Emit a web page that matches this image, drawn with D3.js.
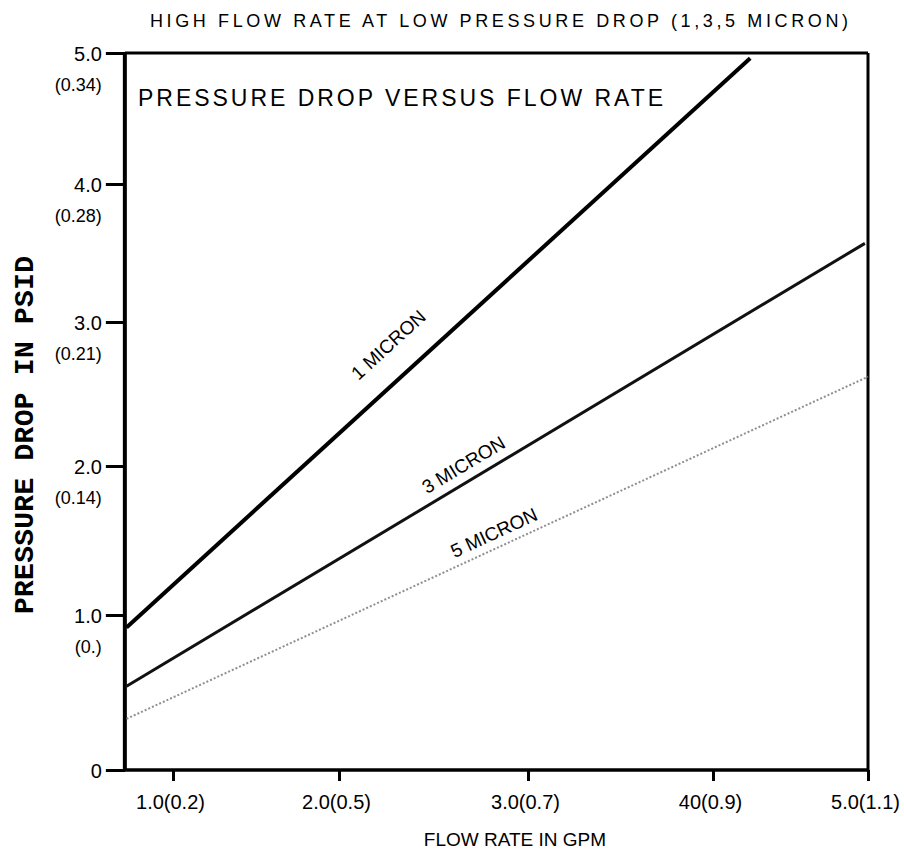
<!DOCTYPE html>
<html>
<head>
<meta charset="utf-8">
<script src="https://cdn.jsdelivr.net/npm/d3@7"></script>
<style>
  body { margin: 0; background: #fff; }
  svg { display: block; }
  text { font-family: "Liberation Sans", Arial, sans-serif; fill: #000; }
</style>
</head>
<body>
<svg id="chart" width="904" height="855"></svg>
<script>
// Flow-rate ticks: GPM with the metric reading in brackets
const flowTicks = [1, 2, 3, 4, 5];
const flowTickLabels = ["1.0(0.2)", "2.0(0.5)", "3.0(0.7)", "40(0.9)", "5.0(1.1)"];

// Pressure-drop ticks: PSID with the metric reading in brackets
const pressureTicks = [0, 1, 2, 3, 4, 5];
const pressureTickLabels = ["0", "1.0", "2.0", "3.0", "4.0", "5.0"];
const pressureSubLabels = ["", "(0.)", "(0.14)", "(0.21)", "(0.28)", "(0.34)"];

// Cartridge ratings, each a straight line [flow GPM, pressure PSID]
const ratings = ["1 MICRON", "3 MICRON", "5 MICRON"];
const micron1 = [[0.72, 0.92], [4.24, 4.96]];
const micron3 = [[0.72, 0.54], [4.98, 3.57]];
const micron5 = [[0.72, 0.33], [5.0, 2.62]];
// Flow value at which each rating label sits along its line
const labelFlow = [2.32, 2.69, 2.85];

const flowExtent = [0.71, 5.0];
const pressureExtent = [0, 5.0];

const svg = d3.select("#chart");

// The printed grid is slightly uneven, so each tick interval has its own span
const x = d3.scaleLinear().domain(flowTicks).range([173, 339, 528, 713, 868]);
const y = d3.scaleLinear().domain(pressureTicks).range([770, 615, 466, 322, 184, 53]);

const plotLeft = x(flowExtent[0]), plotRight = x(flowExtent[1]);
const plotTop = y(pressureExtent[1]), plotBottom = y(pressureExtent[0]);

// Title
svg.append("text")
  .attr("x", 150).attr("y", 27)
  .attr("textLength", 698).attr("lengthAdjust", "spacing")
  .style("font-size", "18px")
  .text("HIGH FLOW RATE AT LOW PRESSURE DROP (1,3,5 MICRON)");

// Plot frame
const frame = svg.append("g").attr("fill", "none").attr("stroke", "#000");
frame.append("line").attr("x1", plotLeft).attr("x2", plotRight).attr("y1", plotTop).attr("y2", plotTop).attr("stroke-width", 3);
frame.append("line").attr("x1", plotRight).attr("x2", plotRight).attr("y1", plotTop).attr("y2", plotBottom).attr("stroke-width", 3);
frame.append("line").attr("x1", plotLeft - 1).attr("x2", plotRight + 1).attr("y1", plotBottom).attr("y2", plotBottom).attr("stroke-width", 3.5);
frame.append("line").attr("x1", plotLeft).attr("x2", plotLeft).attr("y1", plotTop - 1).attr("y2", plotBottom + 1).attr("stroke-width", 4);

// Y axis
const yAxis = d3.axisLeft(y).tickValues(pressureTicks)
  .tickFormat((d, i) => pressureTickLabels[i]).tickSize(19).tickPadding(4);
const gy = svg.append("g").attr("transform", `translate(${plotLeft},0)`).call(yAxis);
gy.select(".domain").remove();
gy.selectAll(".tick line").attr("stroke", "#000").attr("stroke-width", 3);
gy.selectAll(".tick text").style("font-size", "20px").attr("fill", "#000").attr("dy", "0.36em");
gy.selectAll(".tick").append("text")
  .attr("x", -23).attr("y", 31).attr("dy", "0.36em")
  .attr("text-anchor", "end").attr("fill", "#000")
  .style("font-size", "18px")
  .text((d, i) => pressureSubLabels[i]);

// X axis
const xAxis = d3.axisBottom(x).tickValues(flowTicks)
  .tickFormat((d, i) => flowTickLabels[i]).tickSize(11).tickPadding(14);
const gx = svg.append("g").attr("transform", `translate(0,${plotBottom})`).call(xAxis);
gx.select(".domain").remove();
gx.selectAll(".tick line").attr("stroke", "#000").attr("stroke-width", 3);
gx.selectAll(".tick text").style("font-size", "20px").attr("fill", "#000").attr("dx", "-3");

// Axis titles
svg.append("text")
  .attr("x", 515).attr("y", 846).attr("text-anchor", "middle")
  .style("font-size", "19px")
  .text("FLOW RATE IN GPM");

svg.append("text")
  .attr("transform", "translate(33,614) rotate(-90)")
  .attr("textLength", 358).attr("lengthAdjust", "spacing")
  .style("font-family", "'Liberation Mono', 'Courier New', monospace")
  .style("font-size", "28px").style("font-weight", "bold")
  .text("PRESSURE DROP IN PSID");

// Inner heading
svg.append("text")
  .attr("x", 138).attr("y", 106)
  .attr("textLength", 525).attr("lengthAdjust", "spacing")
  .style("font-size", "23px")
  .text("PRESSURE DROP VERSUS FLOW RATE");

// Rating lines
const line = d3.line().x(d => x(d[0])).y(d => y(d[1]));
const lineData = [micron1, micron3, micron5];
const lineStyle = [
  { stroke: "#000", width: 4, dash: null },
  { stroke: "#111", width: 3, dash: null },
  { stroke: "#8f8f8f", width: 2, dash: "2,2" }
];
svg.append("g").selectAll("path").data(lineData).join("path")
  .attr("d", line)
  .attr("fill", "none")
  .attr("stroke", (d, i) => lineStyle[i].stroke)
  .attr("stroke-width", (d, i) => lineStyle[i].width)
  .attr("stroke-dasharray", (d, i) => lineStyle[i].dash);

// Rating labels laid along their lines
const labelLift = [10, 5, 7];
ratings.forEach((name, i) => {
  const [p0, p1] = lineData[i];
  const x0 = x(p0[0]), y0 = y(p0[1]), x1 = x(p1[0]), y1 = y(p1[1]);
  const angle = Math.atan2(y1 - y0, x1 - x0) * 180 / Math.PI;
  const t = (labelFlow[i] - p0[0]) / (p1[0] - p0[0]);
  const px = x(labelFlow[i]);
  const py = y(p0[1] + t * (p1[1] - p0[1]));
  svg.append("text")
    .attr("transform", `translate(${px},${py}) rotate(${angle})`)
    .attr("y", -labelLift[i])
    .attr("text-anchor", "middle")
    .style("font-size", "19px")
    .text(name);
});
</script>
</body>
</html>
